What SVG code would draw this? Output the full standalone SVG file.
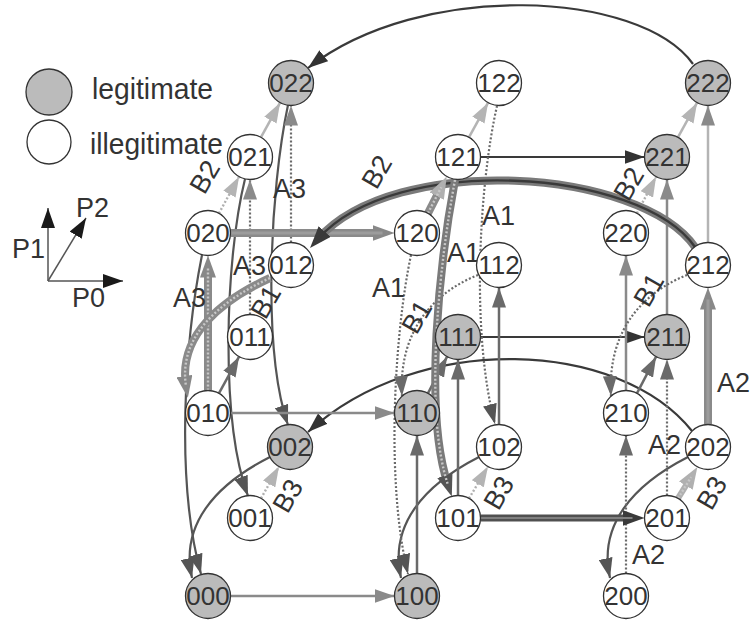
<svg xmlns="http://www.w3.org/2000/svg" width="751" height="625" viewBox="0 0 751 625">
  <style>
    .node circle { stroke: #333; stroke-width: 1.3; }
    .leg { fill: #bbb; }
    .ill { fill: #fff; }
    text { font-family: "Liberation Sans", Arial, sans-serif; fill: #333; }
    .nl { font-size: 26px; text-anchor: middle; }
    .el { font-size: 27px; }
    .rl { font-size: 27px; text-anchor: middle; }
    #connectors path, #connectors line { fill: none; stroke-linecap: butt; }
    .dk { stroke: #3a3a3a; stroke-width: 2.2; }
    .d2 { stroke: #555; stroke-width: 2.2; }
    .md { stroke: #6a6a6a; stroke-width: 2.5; }
    .gr { stroke: #8a8a8a; stroke-width: 2.5; }
    .lt { stroke: #b4b4b4; stroke-width: 2.5; }
    .dot { stroke: #6a6a6a; stroke-width: 2.2; stroke-dasharray: 2 2; }
    .dotl { stroke: #b0b0b0; stroke-width: 2.4; stroke-dasharray: 2 2; }
    .band { stroke: #8a8a8a; stroke-width: 8; }
    .bandd { stroke: #7a7a7a; stroke-width: 8; }
    .bandk { stroke: #505050; stroke-width: 7; }
    .bandl { stroke: #b0b0b0; stroke-width: 6; }
    .cdot { stroke: #c8c8c8; stroke-width: 2.4; stroke-dasharray: 2 2; }
    .cline { stroke: #9c9c9c; stroke-width: 3; }
    .cdark { stroke: #3a3a3a; stroke-width: 2.4; }
    .ckm { stroke: #808080; stroke-width: 2; }
    .axis { stroke: #555; stroke-width: 1.5; fill: none; }
  </style>
  <defs>
    <marker id="aDark" viewBox="0 0 20 14" refX="20" refY="7" markerWidth="20" markerHeight="14" markerUnits="userSpaceOnUse" orient="auto"><path d="M0,0 L20,7 L0,14 Z" fill="#333"/></marker>
    <marker id="aD2" viewBox="0 0 20 14" refX="20" refY="7" markerWidth="20" markerHeight="14" markerUnits="userSpaceOnUse" orient="auto"><path d="M0,0 L20,7 L0,14 Z" fill="#555"/></marker>
    <marker id="aMid" viewBox="0 0 20 14" refX="20" refY="7" markerWidth="20" markerHeight="14" markerUnits="userSpaceOnUse" orient="auto"><path d="M0,0 L20,7 L0,14 Z" fill="#6a6a6a"/></marker>
    <marker id="aGray" viewBox="0 0 20 14" refX="20" refY="7" markerWidth="20" markerHeight="14" markerUnits="userSpaceOnUse" orient="auto"><path d="M0,0 L20,7 L0,14 Z" fill="#8a8a8a"/></marker>
    <marker id="aLight" viewBox="0 0 20 14" refX="20" refY="7" markerWidth="20" markerHeight="14" markerUnits="userSpaceOnUse" orient="auto"><path d="M0,0 L20,7 L0,14 Z" fill="#b4b4b4"/></marker>
    <marker id="tDark" viewBox="0 0 22 16" refX="10" refY="8" markerWidth="22" markerHeight="16" markerUnits="userSpaceOnUse" orient="auto"><path d="M0,0 L22,8 L0,16 Z" fill="#3a3a3a"/></marker>
    <marker id="tD2" viewBox="0 0 22 16" refX="10" refY="8" markerWidth="22" markerHeight="16" markerUnits="userSpaceOnUse" orient="auto"><path d="M0,0 L22,8 L0,16 Z" fill="#555"/></marker>
    <marker id="tGray" viewBox="0 0 22 16" refX="10" refY="8" markerWidth="22" markerHeight="16" markerUnits="userSpaceOnUse" orient="auto"><path d="M0,0 L22,8 L0,16 Z" fill="#888"/></marker>
    <marker id="tLight" viewBox="0 0 22 16" refX="10" refY="8" markerWidth="22" markerHeight="16" markerUnits="userSpaceOnUse" orient="auto"><path d="M0,0 L22,8 L0,16 Z" fill="#b0b0b0"/></marker>
    <marker id="axHead" viewBox="0 0 20 14" refX="20" refY="7" markerWidth="20" markerHeight="14" markerUnits="userSpaceOnUse" orient="auto"><path d="M0,0 L20,7 L0,14 Z" fill="#1a1a1a"/></marker>
  </defs>

  <rect width="751" height="625" fill="#fff"/>

  <!-- legend -->
  <g id="legend">
    <circle cx="49" cy="92" r="23" fill="#bbb" stroke="#333" stroke-width="1.3"/>
    <text x="92" y="99" font-size="30" textLength="121" lengthAdjust="spacingAndGlyphs">legitimate</text>
    <circle cx="49" cy="142" r="22" fill="#fff" stroke="#333" stroke-width="1.3"/>
    <text x="90" y="154" font-size="30" textLength="133" lengthAdjust="spacingAndGlyphs">illegitimate</text>
  </g>

  <!-- coordinate axes -->
  <g id="axes">
    <line class="axis" x1="48" y1="281" x2="48" y2="208" marker-end="url(#axHead)"/>
    <line class="axis" x1="48" y1="281" x2="123" y2="281" marker-end="url(#axHead)"/>
    <line class="axis" x1="48" y1="281" x2="86" y2="218" marker-end="url(#axHead)"/>
    <text class="el" x="12" y="258">P1</text>
    <text class="el" x="76" y="217">P2</text>
    <text class="el" x="72" y="307">P0</text>
  </g>

  <g id="connectors">
    <!-- long arcs -->
    <path class="dk" d="M693,64 C640,-10 420,-20 308,68" marker-end="url(#aDark)"/>
    <path class="dk" d="M692,431 C620,340 420,330 308,432" marker-end="url(#aDark)"/>
    <path class="d2" d="M270,457 C215,485 180,525 192,578" marker-end="url(#aD2)"/>
    <path class="d2" d="M479,457 C424,485 389,525 401,578" marker-end="url(#aD2)"/>
    <path class="d2" d="M688,457 C633,485 598,525 610,578" marker-end="url(#aD2)"/>
    <path class="d2" d="M202,255 C185,340 175,480 201,574" marker-end="url(#aD2)"/>
    <path class="d2" d="M245,179 C225,260 220,420 248,496" marker-end="url(#aD2)"/>
    <path class="d2" d="M288,105 C270,190 262,350 288,425" marker-end="url(#aD2)"/>

    <!-- straight moves along P0 -->
    <line class="gr" x1="230.5" y1="596" x2="394.5" y2="596" marker-end="url(#aGray)"/>
    <line class="gr" x1="230.5" y1="413" x2="394.5" y2="413" marker-end="url(#aGray)"/>
    <line class="dk" x1="480.5" y1="157" x2="644.5" y2="157" marker-end="url(#aDark)"/>
    <line class="dk" x1="480.5" y1="337" x2="644.5" y2="337" marker-end="url(#aDark)"/>

    <!-- straight moves along P1 -->
    <line class="md" x1="417" y1="573.5" x2="417" y2="435.5" marker-end="url(#aMid)"/>
    <line class="md" x1="458" y1="495.5" x2="458" y2="359.5" marker-end="url(#aMid)"/>
    <line class="md" x1="499" y1="424.5" x2="499" y2="287.5" marker-end="url(#aMid)"/>
    <line class="gr" x1="626" y1="390.5" x2="626" y2="255.5" marker-end="url(#aGray)"/>
    <line class="gr" x1="667" y1="314.5" x2="667" y2="179.5" marker-end="url(#aGray)"/>
    <line class="lt" x1="708" y1="242.5" x2="708" y2="105.5" marker-end="url(#aGray)"/>

    <!-- straight moves along P2 -->
    <line class="md" x1="218.9" y1="393.3" x2="239.1" y2="356.7" marker-end="url(#aMid)"/>
    <line class="md" x1="427.9" y1="393.3" x2="447.1" y2="356.7" marker-end="url(#aMid)"/>
    <line class="md" x1="636.9" y1="393.3" x2="656.1" y2="356.7" marker-end="url(#aMid)"/>
    <line class="lt" x1="260.9" y1="137.3" x2="280.1" y2="102.7" marker-end="url(#aLight)"/>
    <line class="lt" x1="468.9" y1="137.3" x2="488.1" y2="102.7" marker-end="url(#aLight)"/>
    <line class="lt" x1="677.9" y1="137.3" x2="697.1" y2="102.7" marker-end="url(#aLight)"/>

    <!-- dotted A moves -->
    <line class="dot" x1="291" y1="242.5" x2="291" y2="105.5" marker-end="url(#aGray)"/>
    <line class="dot" x1="250" y1="314.5" x2="250" y2="179.5" marker-end="url(#aGray)"/>
    <line class="dot" x1="667" y1="495.5" x2="667" y2="359.5" marker-end="url(#aMid)"/>
    <line class="dot" x1="626" y1="573.5" x2="626" y2="435.5" marker-end="url(#aMid)"/>
    <path class="dot" d="M497,106 C480,180 470,330 495,424" marker-end="url(#aD2)"/>
    <path class="dot" d="M411,255 C395,330 385,480 408,574" marker-end="url(#aD2)"/>

    <!-- dotted B moves -->
    <path class="dot" d="M478,275 C440,290 398,325 402,396" marker-end="url(#aMid)"/>
    <path class="dot" d="M687,275 C649,290 607,325 611,396" marker-end="url(#aMid)"/>
    <line class="dotl" x1="218.9" y1="213.3" x2="239.1" y2="176.7" marker-end="url(#aLight)"/>
    <line class="dotl" x1="636.9" y1="213.3" x2="656.1" y2="176.7" marker-end="url(#aLight)"/>
    <line class="dotl" x1="261" y1="498.4" x2="279" y2="466.6" marker-end="url(#aLight)"/>
    <line class="dotl" x1="469" y1="498.4" x2="488" y2="466.6" marker-end="url(#aLight)"/>

    <!-- highlighted cycle -->
    <line class="band" x1="230.5" y1="233" x2="382.5" y2="233" marker-end="url(#tGray)"/>
    <line class="cline" x1="230.5" y1="233" x2="382.5" y2="233"/>
    <line class="band" x1="208" y1="390.5" x2="208" y2="267.5" marker-end="url(#tGray)"/>
    <line class="cdot" x1="208" y1="390.5" x2="208" y2="267.5"/>
    <path class="band" d="M270,278 C222,300 178,335 186,386" marker-end="url(#tGray)"/>
    <path class="cdot" d="M270,278 C222,300 178,335 186,386"/>
    <path class="bandd" d="M695,247 C640,168 395,152 318,239" marker-end="url(#tDark)"/>
    <path class="cdark" d="M695,247 C640,168 395,152 318,239"/>
    <line class="band" x1="427.9" y1="213.3" x2="441.3" y2="187.2" stroke="#9a9a9a" marker-end="url(#tLight)"/>
    <line class="cdot" x1="427.9" y1="213.3" x2="441.3" y2="187.2"/>
    <path class="bandd" d="M455,180 C440,260 423,410 448,485" marker-end="url(#tD2)"/>
    <path class="cdot" d="M455,180 C440,260 423,410 448,485" stroke="#aaa"/>
    <line class="bandk" x1="480.5" y1="518" x2="632.5" y2="518" marker-end="url(#tDark)"/>
    <line class="ckm" x1="480.5" y1="518" x2="632.5" y2="518"/>
    <line class="band" x1="708" y1="424.5" x2="708" y2="299.5" marker-end="url(#tGray)"/>
    <line class="cline" x1="708" y1="424.5" x2="708" y2="299.5"/>
    <line class="bandl" x1="678" y1="498.4" x2="691.1" y2="477.1" marker-end="url(#tLight)"/>
    <line class="cdot" x1="678" y1="498.4" x2="691.1" y2="477.1" stroke="#e0e0e0"/>
  </g>

  <!-- move labels -->
  <g id="labels">
    <text class="el" x="273" y="198">A3</text>
    <text class="el" x="233" y="275">A3</text>
    <text class="el" x="173" y="307">A3</text>
    <text class="el" x="482" y="225">A1</text>
    <text class="el" x="447" y="262">A1</text>
    <text class="el" x="372" y="297">A1</text>
    <text class="el" x="717" y="392">A2</text>
    <text class="el" x="648" y="454">A2</text>
    <text class="el" x="632" y="564">A2</text>
    <text class="rl" transform="translate(205,177) rotate(-60)" y="9">B2</text>
    <text class="rl" transform="translate(377,172) rotate(-60)" y="9">B2</text>
    <text class="rl" transform="translate(629,184) rotate(-60)" y="9">B2</text>
    <text class="rl" transform="translate(266,302) rotate(-60)" y="9">B1</text>
    <text class="rl" transform="translate(417,317) rotate(-60)" y="9">B1</text>
    <text class="rl" transform="translate(649,290) rotate(-60)" y="9">B1</text>
    <text class="rl" transform="translate(288,496) rotate(-60)" y="9">B3</text>
    <text class="rl" transform="translate(499,493) rotate(-60)" y="9">B3</text>
    <text class="rl" transform="translate(712,493) rotate(-60)" y="9">B3</text>
  </g>

  <!-- states -->
  <g id="n000" class="node"><circle class="leg" cx="208" cy="596" r="22.5"/><text class="nl" x="208" y="605">000</text></g>
  <g id="n100" class="node"><circle class="leg" cx="417" cy="596" r="22.5"/><text class="nl" x="417" y="605">100</text></g>
  <g id="n200" class="node"><circle class="ill" cx="626" cy="596" r="22.5"/><text class="nl" x="626" y="605">200</text></g>
  <g id="n001" class="node"><circle class="ill" cx="250" cy="518" r="22.5"/><text class="nl" x="250" y="527">001</text></g>
  <g id="n101" class="node"><circle class="ill" cx="458" cy="518" r="22.5"/><text class="nl" x="458" y="527">101</text></g>
  <g id="n201" class="node"><circle class="ill" cx="667" cy="518" r="22.5"/><text class="nl" x="667" y="527">201</text></g>
  <g id="n002" class="node"><circle class="leg" cx="290" cy="447" r="22.5"/><text class="nl" x="290" y="456">002</text></g>
  <g id="n102" class="node"><circle class="ill" cx="499" cy="447" r="22.5"/><text class="nl" x="499" y="456">102</text></g>
  <g id="n202" class="node"><circle class="ill" cx="708" cy="447" r="22.5"/><text class="nl" x="708" y="456">202</text></g>
  <g id="n010" class="node"><circle class="ill" cx="208" cy="413" r="22.5"/><text class="nl" x="208" y="422">010</text></g>
  <g id="n110" class="node"><circle class="leg" cx="417" cy="413" r="22.5"/><text class="nl" x="417" y="422">110</text></g>
  <g id="n210" class="node"><circle class="ill" cx="626" cy="413" r="22.5"/><text class="nl" x="626" y="422">210</text></g>
  <g id="n011" class="node"><circle class="ill" cx="250" cy="337" r="22.5"/><text class="nl" x="250" y="346">011</text></g>
  <g id="n111" class="node"><circle class="leg" cx="458" cy="337" r="22.5"/><text class="nl" x="458" y="346">111</text></g>
  <g id="n211" class="node"><circle class="leg" cx="667" cy="337" r="22.5"/><text class="nl" x="667" y="346">211</text></g>
  <g id="n012" class="node"><circle class="ill" cx="291" cy="265" r="22.5"/><text class="nl" x="291" y="274">012</text></g>
  <g id="n112" class="node"><circle class="ill" cx="499" cy="265" r="22.5"/><text class="nl" x="499" y="274">112</text></g>
  <g id="n212" class="node"><circle class="ill" cx="708" cy="265" r="22.5"/><text class="nl" x="708" y="274">212</text></g>
  <g id="n020" class="node"><circle class="ill" cx="208" cy="233" r="22.5"/><text class="nl" x="208" y="242">020</text></g>
  <g id="n120" class="node"><circle class="ill" cx="417" cy="233" r="22.5"/><text class="nl" x="417" y="242">120</text></g>
  <g id="n220" class="node"><circle class="ill" cx="626" cy="233" r="22.5"/><text class="nl" x="626" y="242">220</text></g>
  <g id="n021" class="node"><circle class="ill" cx="250" cy="157" r="22.5"/><text class="nl" x="250" y="166">021</text></g>
  <g id="n121" class="node"><circle class="ill" cx="458" cy="157" r="22.5"/><text class="nl" x="458" y="166">121</text></g>
  <g id="n221" class="node"><circle class="leg" cx="667" cy="157" r="22.5"/><text class="nl" x="667" y="166">221</text></g>
  <g id="n022" class="node"><circle class="leg" cx="291" cy="83" r="22.5"/><text class="nl" x="291" y="92">022</text></g>
  <g id="n122" class="node"><circle class="ill" cx="499" cy="83" r="22.5"/><text class="nl" x="499" y="92">122</text></g>
  <g id="n222" class="node"><circle class="leg" cx="708" cy="83" r="22.5"/><text class="nl" x="708" y="92">222</text></g>
</svg>
